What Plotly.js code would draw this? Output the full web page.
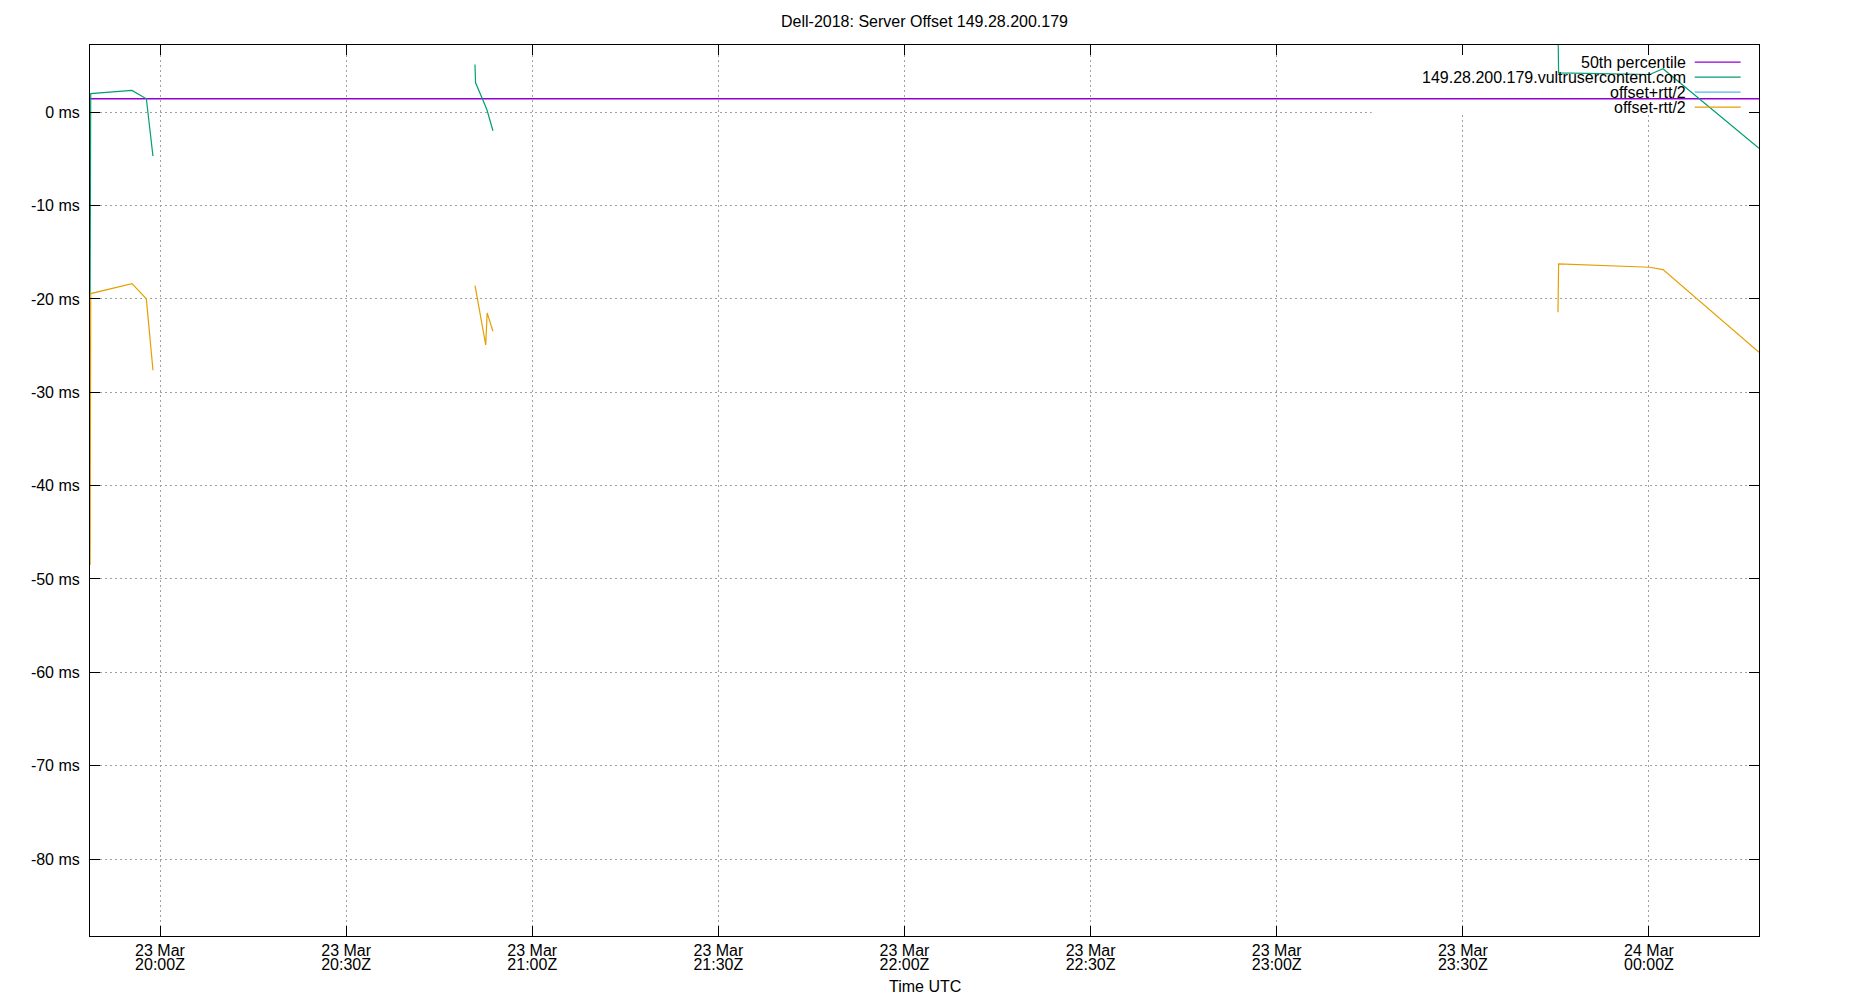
<!DOCTYPE html>
<html>
<head>
<meta charset="utf-8">
<script src="https://cdn.plot.ly/plotly-3.0.1.min.js"></script>
<style>
  body { margin: 0; background: #fff; }
  #chart { width: 1850px; height: 1000px; }
</style>
</head>
<body>
<div id="chart"></div>
<script>
// time window shown on the x axis
var xRange = ['2024-03-23 19:48:43', '2024-03-24 00:17:44'];

// x ticks, two label lines
var tickTimes = ['2024-03-23 20:00', '2024-03-23 20:30', '2024-03-23 21:00', '2024-03-23 21:30',
  '2024-03-23 22:00', '2024-03-23 22:30', '2024-03-23 23:00', '2024-03-23 23:30', '2024-03-24 00:00'];
var tickDays = ['23 Mar', '23 Mar', '23 Mar', '23 Mar', '23 Mar', '23 Mar', '23 Mar', '23 Mar', '24 Mar'];
var tickClock = ['20:00Z', '20:30Z', '21:00Z', '21:30Z', '22:00Z', '22:30Z', '23:00Z', '23:30Z', '00:00Z'];

// y ticks
var yTickVals = [-80, -70, -60, -50, -40, -30, -20, -10, 0];
var yTickText = ['-80 ms', '-70 ms', '-60 ms', '-50 ms', '-40 ms', '-30 ms', '-20 ms', '-10 ms', '0 ms'];

// 50th percentile
var p50Times = ['2024-03-23 19:48:43', '2024-03-24 00:17:44'];
var p50Vals = [1.45, 1.45];

// samples (null = gap in data)
var sampleTimes = [
  '2024-03-23 19:48:44', '2024-03-23 19:48:50', '2024-03-23 19:55:29', '2024-03-23 19:57:48', '2024-03-23 19:58:52',
  '2024-03-23 20:20:00',
  '2024-03-23 20:50:46', '2024-03-23 20:50:52', '2024-03-23 20:52:30', '2024-03-23 20:52:44', '2024-03-23 20:53:40',
  '2024-03-23 22:30:00',
  '2024-03-23 23:45:20', '2024-03-23 23:45:26', '2024-03-24 00:00:07', '2024-03-24 00:02:16', '2024-03-24 00:17:44'
];
var offsetVals = [-19.5, 2.01, 2.34, 1.45, -4.70, null, 5.12, 3.16, 0.59, 0.19, -1.98, null, 9.0, 4.23, 4.05, 4.66, -3.85];
var lowerVals = [-48.5, -19.42, -18.35, -19.99, -27.64, null, -18.57, -18.9, -24.92, -21.49, -23.46, null, -21.42, -16.24, -16.6, -16.85, -25.71];

var legendNames = ['50th percentile', '149.28.200.179.vultrusercontent.com', 'offset+rtt/2', 'offset-rtt/2'];
var legendColors = ['#9400d3', '#009e73', '#56b4e9', '#e69f00'];

// area of the key, grid is blanked there
var keyBoxX = ['2024-03-23 23:15:18', '2024-03-24 00:17:44'];
var keyBoxY = [-0.24, 7.21];

var FONT = 'Liberation Sans, Arial, sans-serif';

var data = [
  {x: p50Times, y: p50Vals, mode: 'lines', type: 'scatter', line: {color: legendColors[0], width: 1.5}, hoverinfo: 'skip'},
  {x: sampleTimes, y: offsetVals, mode: 'lines', type: 'scatter', line: {color: legendColors[1], width: 1.2}, connectgaps: false},
  {x: sampleTimes, y: lowerVals, mode: 'lines', type: 'scatter', line: {color: legendColors[3], width: 1.2}, connectgaps: false},
  // carrier for the second row of x tick labels
  {x: p50Times, y: p50Vals, xaxis: 'x2', mode: 'lines', type: 'scatter', opacity: 0, line: {width: 0}, hoverinfo: 'skip'}
];

// hand made key, text right aligned with sample line to the right (like gnuplot)
var keyRows = [0.9807, 0.9639, 0.9470, 0.9302];
var annotations = [];
var shapes = [
  {type: 'rect', xref: 'x', yref: 'y', x0: keyBoxX[0], x1: keyBoxX[1], y0: keyBoxY[0], y1: keyBoxY[1],
   fillcolor: '#fff', line: {width: 0}, layer: 'between'}
];
for (var i = 0; i < legendNames.length; i++) {
  annotations.push({xref: 'paper', yref: 'paper', x: 0.9575, y: keyRows[i], xanchor: 'right', yanchor: 'middle',
    text: legendNames[i], showarrow: false, font: {family: FONT, size: 16, color: '#000'}});
  shapes.push({type: 'line', xref: 'paper', yref: 'paper', x0: 0.9615, x1: 0.9890, y0: keyRows[i], y1: keyRows[i],
    line: {color: legendColors[i], width: 1.3}, layer: 'above'});
}
annotations.push({xref: 'paper', yref: 'paper', x: 0.5, y: -0.0569, xanchor: 'center', yanchor: 'middle',
  text: 'Time UTC', showarrow: false, font: {family: FONT, size: 16, color: '#000'}});

var layout = {
  width: 1850,
  height: 1000,
  showlegend: false,
  paper_bgcolor: '#fff',
  plot_bgcolor: '#fff',
  font: {family: FONT, size: 16, color: '#000'},
  title: {text: 'Dell-2018: Server Offset 149.28.200.179', font: {family: FONT, size: 16, color: '#000'},
    x: 0.5, xref: 'paper', y: 0.979, yref: 'container', yanchor: 'middle'},
  margin: {l: 90, r: 91, t: 45, b: 64, pad: 0},
  xaxis: {
    type: 'date', range: xRange, autorange: false,
    tickmode: 'array', tickvals: tickTimes, ticktext: tickDays,
    ticks: 'inside', ticklen: 10, tickwidth: 1, tickcolor: '#000',
    showline: true, linecolor: '#000', linewidth: 1, mirror: 'ticks',
    showgrid: true, gridcolor: '#a0a0a0', gridwidth: 1, griddash: '2px,3px',
    zeroline: false, ticklabelstandoff: 0, automargin: false
  },
  xaxis2: {
    type: 'date', range: xRange, autorange: false, overlaying: 'x', anchor: 'y', side: 'bottom',
    tickmode: 'array', tickvals: tickTimes, ticktext: tickClock,
    ticks: '', showline: false, showgrid: false, zeroline: false,
    ticklabelstandoff: 17, automargin: false
  },
  yaxis: {
    range: [-88.25, 7.21], autorange: false,
    tickmode: 'array', tickvals: yTickVals, ticktext: yTickText,
    ticks: 'inside', ticklen: 10, tickwidth: 1, tickcolor: '#000',
    showline: true, linecolor: '#000', linewidth: 1, mirror: 'ticks',
    showgrid: true, gridcolor: '#a0a0a0', gridwidth: 1, griddash: '2px,3px',
    zeroline: false, ticklabelstandoff: 6, automargin: false
  },
  annotations: annotations,
  shapes: shapes
};

Plotly.newPlot('chart', data, layout, {displayModeBar: false, staticPlot: true});
</script>
</body>
</html>
